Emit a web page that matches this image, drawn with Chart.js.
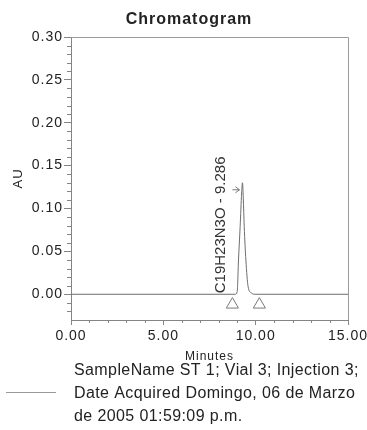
<!DOCTYPE html>
<html>
<head>
<meta charset="utf-8">
<script src="https://cdn.jsdelivr.net/npm/chart.js@4/dist/chart.umd.min.js"></script>
<style>
  html, body { margin: 0; padding: 0; background: #fff; }
  canvas { display: block; }
</style>
</head>
<body>
<canvas id="chart" width="367" height="430"></canvas>
<script>
// ---------- detector trace ----------
const minutes = [0, 8.90, 9.00, 9.07, 9.16, 9.24, 9.286, 9.33, 9.38, 9.47, 9.59, 9.77, 9.95, 15];
const au      = [0, 0, 0.003, 0.040, 0.079, 0.118, 0.130, 0.112, 0.079, 0.040, 0.009, 0.0015, 0, 0];

// integration start / end markers
const markerMinutes = [8.74, 10.20];
const markerAu = [-0.012, -0.012];

const peakName = 'C19H23N3O';
const peakTime = 9.286;
const peakHeight = 0.130;

const xTicks = [0, 5, 10, 15];
const yTicks = [0, 0.05, 0.10, 0.15, 0.20, 0.25, 0.30];

const legendLines = [
    'SampleName ST 1; Vial 3; Injection 3;',
    'Date Acquired Domingo, 06 de Marzo',
    'de 2005 01:59:09 p.m.'
];

const FONT = "'Liberation Sans', Arial, sans-serif";
const axisColor = '#858585';
const traceColor = '#6e6e6e';
const textColor = '#222';

const ctx = document.getElementById('chart');

// ---------- plugins ----------
const spacing = {
    id: 'spacing',
    beforeDraw(chart) {
        const c = chart.ctx;
        c.fillStyle = '#fff';
        c.fillRect(0, 0, chart.width, chart.height);
        c.letterSpacing = '1px';
    }
};

const frame = {
    id: 'frame',
    afterDraw(chart) {
        const { ctx: c, chartArea: a, scales: { x, y } } = chart;
        c.save();
        c.strokeStyle = '#9a9a9a';
        c.lineWidth = 1;
        c.beginPath();
        c.moveTo(a.left, Math.round(a.top) + 0.5);
        c.lineTo(Math.round(a.right) + 0.5, Math.round(a.top) + 0.5);
        c.lineTo(Math.round(a.right) + 0.5, a.bottom);
        c.stroke();

        // minor ticks
        c.strokeStyle = axisColor;
        c.beginPath();
        for (let m = x.min + 1; m < x.max; m++) {
            if (m % 5 === 0) continue;
            const px = Math.round(x.getPixelForValue(m)) + 0.5;
            c.moveTo(px, a.bottom);
            c.lineTo(px, a.bottom + 3);
        }
        for (let i = Math.round(y.min * 100) + 1; i < Math.round(y.max * 100); i++) {
            if (i % 5 === 0) continue;
            const py = Math.round(y.getPixelForValue(i / 100)) + 0.5;
            c.moveTo(a.left - 4, py);
            c.lineTo(a.left, py);
        }
        c.stroke();
        c.restore();
    }
};

const peakLabel = {
    id: 'peakLabel',
    afterDraw(chart) {
        const { ctx: c, scales: { x, y } } = chart;
        const px = x.getPixelForValue(peakTime);
        const py = y.getPixelForValue(peakHeight);
        c.save();
        c.letterSpacing = '0px';
        c.font = '15px ' + FONT;
        c.fillStyle = '#333';
        c.translate(px - 22, y.getPixelForValue(0) - 1);
        c.rotate(-Math.PI / 2);
        c.textAlign = 'left';
        c.textBaseline = 'middle';
        c.fillText(peakName + ' - ' + peakTime.toFixed(3), 0, 0);
        c.restore();

        // arrow pointing at the apex
        const tx = px - 3, ty = py + 7;
        c.save();
        c.strokeStyle = '#777';
        c.lineWidth = 1;
        c.beginPath();
        c.moveTo(tx - 7, ty);
        c.lineTo(tx, ty);
        c.moveTo(tx - 4, ty - 3);
        c.lineTo(tx, ty);
        c.lineTo(tx - 4, ty + 3);
        c.stroke();
        c.restore();
    }
};

const titleAndLegend = {
    id: 'titleAndLegend',
    afterDraw(chart) {
        const c = chart.ctx;
        c.save();
        c.fillStyle = textColor;
        c.textBaseline = 'alphabetic';

        c.letterSpacing = '1px';
        c.font = 'bold 16px ' + FONT;
        c.textAlign = 'center';
        c.fillText('Chromatogram', 189, 24);

        c.letterSpacing = '0.4px';
        c.font = '16px ' + FONT;
        c.textAlign = 'left';
        legendLines.forEach((line, i) => c.fillText(line, 74, 374.5 + i * 23));

        c.strokeStyle = '#999';
        c.lineWidth = 1;
        c.beginPath();
        c.moveTo(6, 392.5);
        c.lineTo(56, 392.5);
        c.stroke();
        c.restore();
    }
};

// ---------- chart ----------
new Chart(ctx, {
    type: 'line',
    data: {
        datasets: [
            {
                label: 'SampleName ST 1',
                data: minutes.map((m, i) => ({ x: m, y: au[i] })),
                borderColor: traceColor,
                borderWidth: 1,
                pointRadius: 0,
                cubicInterpolationMode: 'monotone'
            },
            {
                label: 'markers',
                data: markerMinutes.map((m, i) => ({ x: m, y: markerAu[i] })),
                showLine: false,
                pointStyle: 'triangle',
                pointRadius: 7,
                borderWidth: 1,
                borderColor: '#7a7a7a',
                backgroundColor: 'rgba(0,0,0,0)'
            }
        ]
    },
    options: {
        responsive: false,
        animation: false,
        layout: {
            padding: { top: 37, right: 19, bottom: 0, left: 0 }
        },
        plugins: {
            legend: { display: false },
            tooltip: { enabled: false },
            title: { display: false }
        },
        scales: {
            x: {
                type: 'linear',
                min: 0,
                max: 15,
                afterFit: s => {
                    s.height = 110;
                    s.paddingLeft = 0;
                    s.paddingRight = 0;
                },
                afterBuildTicks: s => { s.ticks = xTicks.map(v => ({ value: v })); },
                grid: {
                    drawOnChartArea: false,
                    tickLength: 5,
                    color: axisColor
                },
                border: { color: axisColor },
                ticks: {
                    color: textColor,
                    font: { family: FONT, size: 14 },
                    padding: 3,
                    maxRotation: 0,
                    callback: v => v.toFixed(2)
                },
                title: {
                    display: true,
                    text: 'Minutes',
                    color: textColor,
                    font: { family: FONT, size: 12 },
                    padding: { bottom: 66 }
                }
            },
            y: {
                min: -0.03,
                max: 0.30,
                afterFit: s => { s.width = 71; },
                afterBuildTicks: s => { s.ticks = yTicks.map(v => ({ value: v })); },
                grid: {
                    drawOnChartArea: false,
                    tickLength: 7,
                    color: axisColor
                },
                border: { color: axisColor },
                ticks: {
                    color: textColor,
                    font: { family: FONT, size: 14 },
                    padding: 1,
                    callback: v => v.toFixed(2)
                },
                title: {
                    display: true,
                    text: 'AU',
                    color: textColor,
                    font: { family: FONT, size: 13 },
                    padding: { top: 11 }
                }
            }
        }
    },
    plugins: [spacing, frame, peakLabel, titleAndLegend]
});
</script>
</body>
</html>
